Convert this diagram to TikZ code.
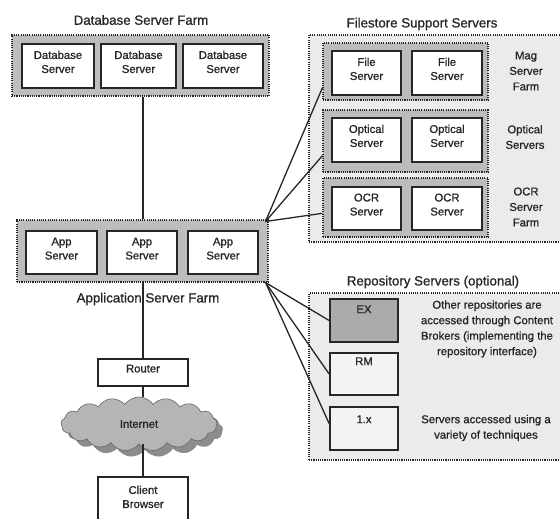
\documentclass[tikz,border=0pt]{standalone}
\usepackage{fontspec}
\setmainfont{Liberation Sans}[FakeBold=1.0]
\usetikzlibrary{shapes.symbols,shadows,fit}
\definecolor{farmgray}{HTML}{BDBDBD}
\definecolor{lightbg}{HTML}{EBEBEB}
\definecolor{groupgray}{HTML}{BCBCBC}
\definecolor{exgray}{HTML}{ABABAB}
\definecolor{palebox}{HTML}{F3F3F3}
\definecolor{ink}{HTML}{262626}
\definecolor{cloudgray}{HTML}{B5B5B5}
\definecolor{shadowgray}{HTML}{8C8C8C}
\begin{document}
\begin{tikzpicture}[x=1pt,y=-1pt,
  dotbord/.style={draw=ink, line width=1.1pt, dash pattern=on 1.1pt off 1.1pt, inner sep=0pt},
  farm/.style={dotbord, fill=farmgray},
  outerzone/.style={dotbord, fill=lightbg},
  group/.style={dotbord, fill=groupgray},
  boxfont/.style={font=\fontsize{11.3}{14}\selectfont, text=ink},
  srvbox/.style={draw=ink, fill=white, line width=1.7pt, inner sep=0pt, align=center, boxfont},
  repobox/.style={srvbox, fill=palebox},
  title/.style={font=\fontsize{13.3}{15}\selectfont, text=ink, inner sep=0pt},
  note/.style={font=\fontsize{11.3}{15.5}\selectfont, text=ink, align=center, inner sep=0pt},
  conn/.style={draw=ink, line width=1.3pt}
]
\useasboundingbox (0,0) rectangle (560,519);
\clip (0,0) rectangle (560,519);

% ---------- Database server farm ----------
\node[title] (dbtitle) at (141,20) {Database Server Farm};
\node[farm, fit={(12,35) (269,96)}] (dbfarm) {};
\node[srvbox, fit={(22,44) (94,88)}] (db1) {Database\\Server};
\node[srvbox, fit={(101,44) (176,88)}] (db2) {Database\\Server};
\node[srvbox, fit={(183,44) (263,88)}] (db3) {Database\\Server};

% ---------- Application server farm ----------
\node[farm, fit={(17,220) (268,282)}] (appfarm) {};
\node[srvbox, fit={(26,231) (97,274)}] (app1) {App\\Server};
\node[srvbox, fit={(107,231) (177,274)}] (app2) {App\\Server};
\node[srvbox, fit={(188,231) (258,274)}] (app3) {App\\Server};
\node[title] (apptitle) at (148,299) {Application Server Farm};

% ---------- Client side ----------
\node[srvbox, fit={(98,359) (188,386)}] (router) {Router};
\node[cloud, cloud puffs=17, cloud puff arc=110, cloud ignores aspect,
  draw=ink!70, line width=0.6pt, fill=cloudgray, minimum width=156pt, minimum height=54pt,
  boxfont,
  drop shadow={fill=shadowgray, opacity=1, shadow xshift=6pt, shadow yshift=-6pt}]
  (inet) at (139,424) {Internet};
\node[srvbox, fit={(98,477) (188,525)}] (client) {Client\\Browser};

% ---------- Filestore support servers ----------
\node[title] (fstitle) at (422,24) {Filestore Support Servers};
\node[outerzone, fit={(309,35) (575,242)}] (fszone) {};
\node[group, fit={(323,43) (488,100)}] (mag) {};
\node[group, fit={(323,110) (488,172)}] (opt) {};
\node[group, fit={(323,178) (488,237)}] (ocr) {};
\node[srvbox, fit={(332,51) (401,95)}] (fs1) {File\\Server};
\node[srvbox, fit={(412,51) (482,95)}] (fs2) {File\\Server};
\node[srvbox, fit={(332,118) (401,162)}] (op1) {Optical\\Server};
\node[srvbox, fit={(412,118) (482,162)}] (op2) {Optical\\Server};
\node[srvbox, fit={(332,187) (401,230)}] (oc1) {OCR\\Server};
\node[srvbox, fit={(412,187) (482,230)}] (oc2) {OCR\\Server};
\node[note] (maglbl) at (526,71) {Mag\\Server\\Farm};
\node[note] (optlbl) at (525,137) {Optical\\Servers};
\node[note] (ocrlbl) at (526,207) {OCR\\Server\\Farm};

% ---------- Repository servers ----------
\node[title] (reptitle) at (433,282) {Repository Servers (optional)};
\node[outerzone, fit={(309,293) (575,460)}] (repzone) {};
\node[repobox, fill=exgray, fit={(330,299) (398,342)},
  label={[name=exlbl, anchor=north, inner sep=0pt, boxfont, yshift=-7pt]north:EX}] (ex) {};
\node[repobox, fit={(330,353) (398,395)},
  label={[name=rmlbl, anchor=north, inner sep=0pt, boxfont, yshift=-5pt]north:RM}] (rm) {};
\node[repobox, fit={(330,407) (398,450)},
  label={[name=onelbl, anchor=north, inner sep=0pt, boxfont, yshift=-9pt]north:1.x}] (onex) {};
\node[note] (otherlbl) at (487,329) {Other repositories are\\accessed through Content\\Brokers (implementing the\\repository interface)};
\node[note] (techlbl) at (486,428) {Servers accessed using a\\variety of techniques};

% ---------- Connectors ----------
\draw[conn] (dbfarm.south -| router.north) -- (appfarm.north -| router.north);
\draw[conn] (appfarm.south -| router.north) -- (router.north);
\draw[conn] (router.south) -- (inet.north -| router.south);
\draw[conn] (inet.south -| client.north) -- (client.north);
\draw[conn] ([xshift=-3pt,yshift=-2pt]appfarm.north east) -- (mag.191);
\draw[conn] ([xshift=-3pt,yshift=-2pt]appfarm.north east) -- (opt.190);
\draw[conn] ([xshift=-3pt,yshift=-2pt]appfarm.north east) -- (ocr.184);
\draw[conn] ([xshift=-3pt]appfarm.south east) -- (ex.west);
\draw[conn] ([xshift=-3pt]appfarm.south east) -- (rm.west);
\draw[conn] ([xshift=-3pt]appfarm.south east) -- (onex.172);
\end{tikzpicture}
\end{document}
